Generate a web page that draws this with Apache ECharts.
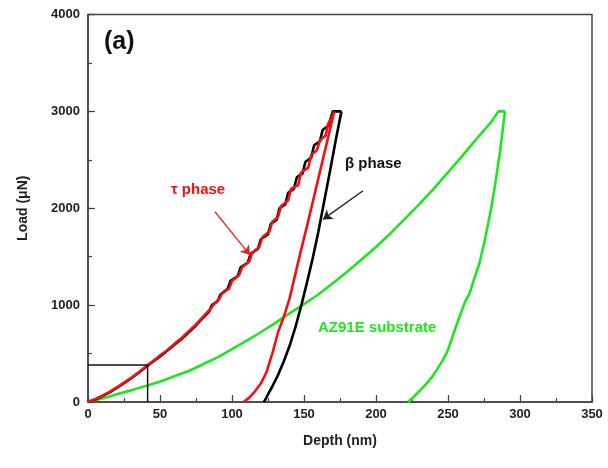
<!DOCTYPE html>
<html>
<head>
<meta charset="utf-8">
<script src="https://cdn.jsdelivr.net/npm/echarts@6/dist/echarts.min.js"></script>
<style>
html, body { margin: 0; padding: 0; background: #fff; }
#chart { width: 608px; height: 468px; }
</style>
</head>
<body>
<div id="chart"></div>
<script>
// depth (nm), load (uN) pairs
var betaLoad = [[0,0],[5,25],[10,60],[15,100],[20,145],[25,195],[30,245],[35,300],[40,360],[45,415],[50,470],[55,530],[60,590],[65,650],[70,720],[75,790],[80,870],[84,930],[86,1000],[90,1040],[92,1110],[97,1170],[99,1250],[104,1300],[106,1390],[111,1440],[113,1530],[118,1580],[120,1680],[125,1730],[127,1840],[131,1880],[133,2000],[137,2040],[139,2160],[143,2200],[145,2320],[149,2360],[151,2480],[155,2520],[157,2650],[161,2690],[163,2810],[167,2850],[170,3000],[176,3000]];
var betaUnload = [[176,3000],[172,2700],[168,2380],[164,2070],[160,1760],[156,1480],[152,1230],[148,990],[144,770],[140,580],[136,420],[132,280],[128,160],[125,80],[123,20],[122,0]];
var tauLoad = [[0,0],[5,30],[10,65],[15,105],[20,150],[25,200],[30,250],[35,305],[41.4,382],[45,420],[50,480],[55,535],[60,600],[65,660],[70,730],[75,800],[80,880],[85,960],[88,1020],[91,1060],[93,1120],[98,1170],[100,1250],[105,1310],[107,1390],[112,1450],[114,1540],[119,1600],[121,1700],[126,1760],[128,1860],[132,1910],[134,2020],[139,2080],[141,2200],[146,2240],[148,2370],[153,2420],[155,2550],[159,2600],[161,2700],[165,2750],[167,2880],[169,2920],[171,3000]];
var tauUnload = [[171,3000],[168,2810],[164,2560],[160,2310],[156,2060],[152,1810],[148,1570],[144,1320],[140,1070],[136,880],[132,720],[128,500],[124,310],[120,190],[116,110],[112,45],[108,0]];
var azLoad = [[0,0],[10,35],[20,80],[30,120],[40,165],[50,210],[60,265],[70,320],[80,390],[90,460],[100,545],[110,630],[120,720],[130,815],[140,915],[150,1010],[160,1110],[170,1225],[180,1345],[190,1470],[200,1600],[210,1740],[220,1890],[230,2040],[240,2200],[250,2370],[260,2540],[270,2720],[280,2890],[285,3000],[289.6,3000]];
var azUnload = [[289.6,3000],[288,2810],[286,2570],[283,2270],[280,2000],[276,1700],[272,1440],[268,1260],[265,1120],[262,1040],[258,880],[254,712],[250,537],[246,420],[243,350],[240,280],[236,205],[232,140],[228,80],[225,35],[222,0]];
// zoom box in the lower-left corner
var boxLine = [[0,382],[41.4,382],[41.4,0]];
// arrows: start -> end
var tauArrow = [[88.2,1964],[112.5,1517]];
var betaArrow = [[191,2181],[163.2,1885]];

var FONT = '"Liberation Sans", Arial, sans-serif';
var AXIS_COLOR = '#444';

function curve(name, data, color) {
	return {
		name: name,
		type: 'line',
		data: data,
		showSymbol: false,
		symbol: 'none',
		animation: false,
		lineStyle: { color: color, width: 2.6 },
		z: 3
	};
}

// short inner ticks only, no labels (minor ticks)
function minorAxis(pos, max, step) {
	return {
		type: 'value',
		position: pos,
		min: 0,
		max: max,
		interval: step,
		axisLine: { show: false },
		axisTick: { show: true, inside: true, length: 4, lineStyle: { color: AXIS_COLOR, width: 1.2 } },
		axisLabel: { show: false },
		splitLine: { show: false }
	};
}

var myChart = echarts.init(document.getElementById('chart'), null, { renderer: 'canvas' });
myChart.setOption({
	backgroundColor: '#fff',
	animation: false,
	textStyle: { fontFamily: FONT },
	grid: {
		left: 88,
		right: 16,
		top: 14.5,
		bottom: 66,
		show: true,
		borderColor: AXIS_COLOR,
		borderWidth: 1.5,
		containLabel: false
	},
	xAxis: [{
		type: 'value',
		position: 'bottom',
		min: 0,
		max: 350,
		interval: 50,
		name: 'Depth (nm)',
		nameLocation: 'middle',
		nameGap: 32,
		nameTextStyle: { fontFamily: FONT, fontWeight: 'bold', fontSize: 14, color: '#222' },
		axisLine: { show: true, lineStyle: { color: AXIS_COLOR, width: 1.5 } },
		axisTick: { show: true, inside: true, length: 7, lineStyle: { color: AXIS_COLOR, width: 1.2 } },
		axisLabel: { fontFamily: FONT, fontWeight: 'bold', fontSize: 13, color: '#222', margin: 6, formatter: function (v) { return String(v); } },
		splitLine: { show: false }
	}, minorAxis('bottom', 350, 25)],
	yAxis: [{
		type: 'value',
		position: 'left',
		min: 0,
		max: 4000,
		interval: 1000,
		name: 'Load (μN)',
		nameLocation: 'middle',
		nameGap: 58,
		nameTextStyle: { fontFamily: FONT, fontWeight: 'bold', fontSize: 14, color: '#222' },
		axisLine: { show: true, lineStyle: { color: AXIS_COLOR, width: 1.5 } },
		axisTick: { show: true, inside: true, length: 7, lineStyle: { color: AXIS_COLOR, width: 1.2 } },
		axisLabel: { fontFamily: FONT, fontWeight: 'bold', fontSize: 13, color: '#222', margin: 8, formatter: function (v) { return String(v); } },
		splitLine: { show: false }
	}, minorAxis('left', 4000, 500)],
	series: [
		curve('AZ91E load', azLoad, '#1ee61e'),
		curve('AZ91E unload', azUnload, '#1ee61e'),
		curve('beta load', betaLoad, '#000'),
		curve('beta unload', betaUnload, '#000'),
		curve('tau load', tauLoad, '#f21010'),
		curve('tau unload', tauUnload, '#f21010'),
		{
			type: 'line',
			data: boxLine,
			showSymbol: false,
			symbol: 'none',
			lineStyle: { color: '#111', width: 1.5 },
			z: 4
		},
		{
			type: 'lines',
			coordinateSystem: 'cartesian2d',
			symbol: ['none', 'arrow'],
			symbolSize: 9,
			lineStyle: { color: '#e82020', width: 1.3, opacity: 1 },
			data: [{ coords: tauArrow }],
			z: 5
		},
		{
			type: 'lines',
			coordinateSystem: 'cartesian2d',
			symbol: ['none', 'arrow'],
			symbolSize: 9,
			lineStyle: { color: '#222', width: 1.3, opacity: 1 },
			data: [{ coords: betaArrow }],
			z: 5
		}
	],
	graphic: [
		{ type: 'text', left: 104, top: 30, style: { text: '(a)', fontFamily: FONT, fontWeight: 'bold', fontSize: 25, fill: '#111' } },
		{ type: 'text', left: 171, top: 182, style: { text: 'τ phase', fontFamily: FONT, fontWeight: 'bold', fontSize: 15, fill: '#f21010' } },
		{ type: 'text', left: 345, top: 156, style: { text: 'β phase', fontFamily: FONT, fontWeight: 'bold', fontSize: 15, fill: '#111' } },
		{ type: 'text', left: 318, top: 320, style: { text: 'AZ91E substrate', fontFamily: FONT, fontWeight: 'bold', fontSize: 15, fill: '#1ee61e' } }
	]
});
</script>
</body>
</html>
